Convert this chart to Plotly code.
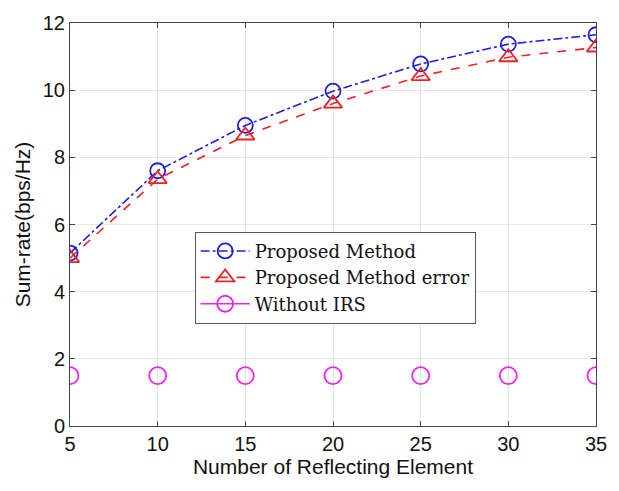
import plotly.graph_objects as go

x_elements = [5, 10, 15, 20, 25, 30, 35]
proposed = [5.15, 7.6, 8.95, 9.97, 10.78, 11.37, 11.65]
proposed_error = [5.0, 7.35, 8.65, 9.6, 10.42, 10.98, 11.27]
without_irs = [1.5, 1.5, 1.5, 1.5, 1.5, 1.5, 1.5]

BLUE = "#1f1fe0"
RED = "#ee2222"
MAGENTA = "#ee22ee"

fig = go.Figure()
fig.add_trace(go.Scatter(
    x=x_elements, y=proposed, name="Proposed Method", mode="lines+markers",
    line=dict(color=BLUE, width=1.6, dash="dashdot"),
    marker=dict(symbol="circle-open", size=15, color=BLUE, line=dict(width=1.8)),
))
fig.add_trace(go.Scatter(
    x=x_elements, y=proposed_error, name="Proposed Method error", mode="lines+markers",
    line=dict(color=RED, width=1.6, dash="dash"),
    marker=dict(symbol="triangle-up-open", size=16, color=RED, line=dict(width=1.8)),
))
fig.add_trace(go.Scatter(
    x=x_elements, y=without_irs, name="Without IRS", mode="markers", showlegend=False,
    marker=dict(symbol="circle-open", size=17, color=MAGENTA, line=dict(width=1.8)),
))
# legend entry for "Without IRS" (line through marker, as in the original legend)
fig.add_trace(go.Scatter(
    x=[None], y=[None], name="Without IRS", mode="lines+markers",
    line=dict(color=MAGENTA, width=1.6),
    marker=dict(symbol="circle-open", size=17, color=MAGENTA, line=dict(width=1.8)),
))

axis_common = dict(
    showgrid=True, gridcolor="#e6e6e6", gridwidth=1,
    showline=True, linecolor="#444444", linewidth=1, mirror="ticks",
    ticks="inside", ticklen=5, tickcolor="#444444",
    tickfont=dict(family="Liberation Sans, Arial", size=20, color="#111111"),
    zeroline=False,
)
fig.update_layout(
    width=619, height=491,
    margin=dict(l=70, r=13, t=13, b=65),
    paper_bgcolor="white", plot_bgcolor="white",
    xaxis=dict(range=[5, 35], tickvals=x_elements,
               title=dict(text="Number of Reflecting Element", standoff=5,
                          font=dict(family="Liberation Sans, Arial", size=21, color="#111111")),
               **axis_common),
    yaxis=dict(range=[0, 12], tickvals=[0, 2, 4, 6, 8, 10, 12],
               title=dict(text="Sum-rate(bps/Hz)", standoff=6,
                          font=dict(family="Liberation Sans, Arial", size=21, color="#111111")),
               **axis_common),
    legend=dict(x=0.237, y=0.482, xanchor="left", yanchor="top",
                bgcolor="white", bordercolor="#555555", borderwidth=1,
                font=dict(family="DejaVu Serif", size=18, color="#111111"),
                itemwidth=49, tracegroupgap=0),
    showlegend=True,
)
fig.write_html("out.html")
